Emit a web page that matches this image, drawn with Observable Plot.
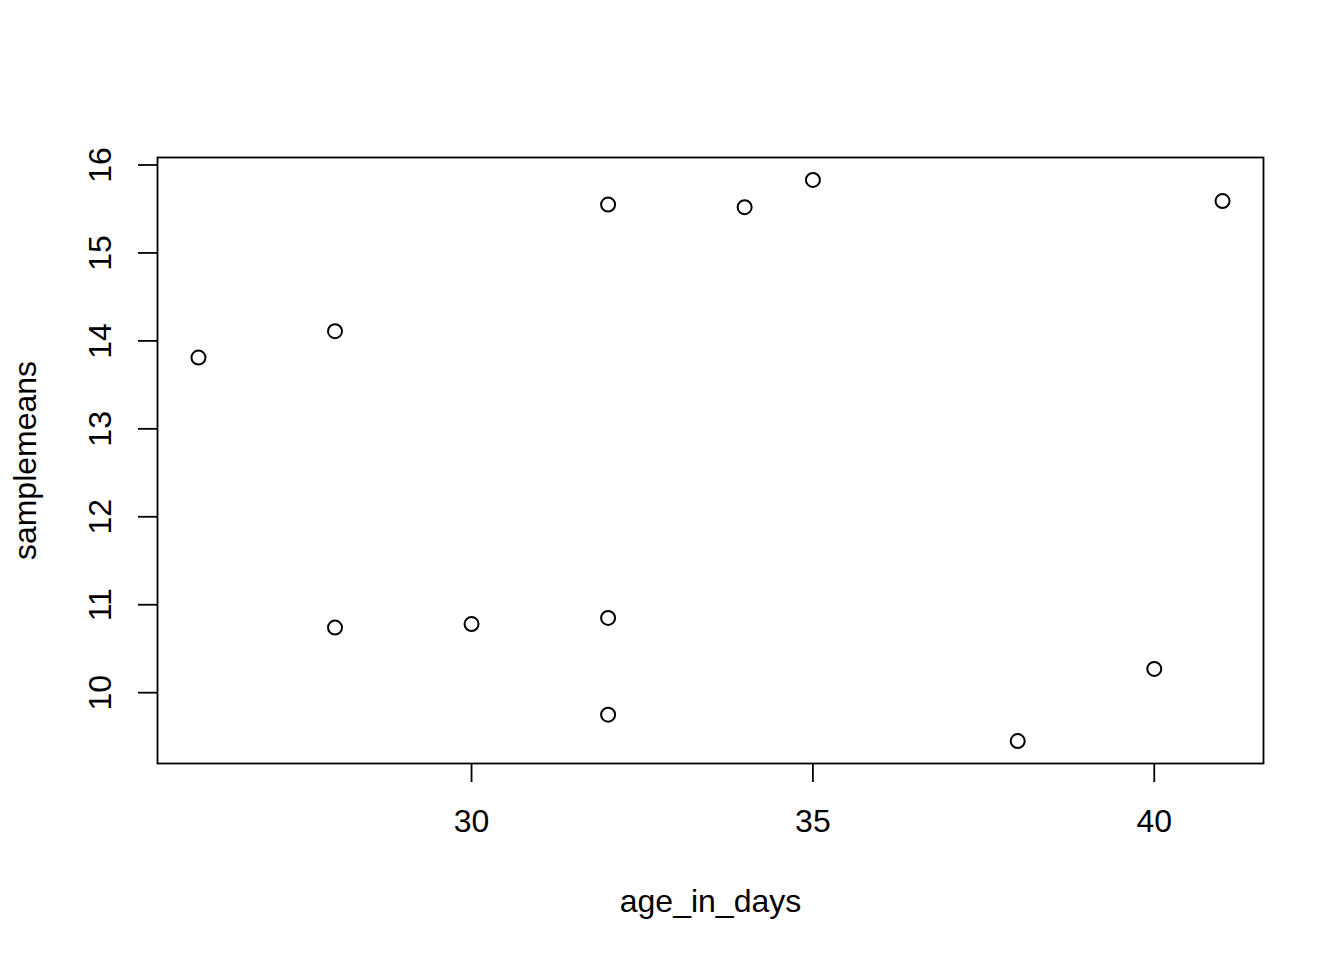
<!DOCTYPE html>
<html>
<head>
<meta charset="utf-8">
<script src="https://cdn.jsdelivr.net/npm/d3@7"></script>
<script src="https://cdn.jsdelivr.net/npm/@observablehq/plot@0.6"></script>
<style>
  html, body { margin: 0; padding: 0; background: #fff; }
  #chart svg { display: block; }
</style>
</head>
<body>
<div id="chart"></div>
<script>
const ageInDays = [26, 28, 28, 30, 32, 32, 32, 34, 35, 38, 40, 41];
const sampleMeans = [13.81, 14.11, 10.74, 10.78, 15.55, 10.85, 9.75, 15.52, 15.83, 9.45, 10.27, 15.59];
const xTicks = [30, 35, 40];
const yTicks = [10, 11, 12, 13, 14, 15, 16];
const xLabel = "age_in_days";
const yLabel = "samplemeans";

const data = ageInDays.map((a, i) => ({age: a, mean: sampleMeans[i]}));

// R-style 4% padding of the data range
function rPad([lo, hi]) { const p = (hi - lo) * 0.04; return [lo - p, hi + p]; }
const xDomain = rPad(d3.extent(ageInDays));
const yDomain = rPad(d3.extent(sampleMeans));

const FONT = "Liberation Sans, Arial, Helvetica, sans-serif";
const FS = 32;

const chart = Plot.plot({
  width: 1344,
  height: 960,
  marginLeft: 157,
  marginRight: 81,
  marginTop: 157,
  marginBottom: 197,
  style: {fontFamily: FONT, fontSize: FS + "px", color: "#000", background: "#fff"},
  x: {domain: xDomain, axis: null},
  y: {domain: yDomain, axis: null},
  marks: [
    Plot.frame({stroke: "#000", strokeWidth: 1.8}),
    Plot.axisX({ticks: xTicks, tickSize: 19, tickPadding: 27, tickFormat: d => String(d), label: null, strokeWidth: 1.8, fontSize: FS, anchor: "bottom"}),
    Plot.axisY({ticks: yTicks, tickSize: 19, tickFormat: () => "", label: null, strokeWidth: 1.8, anchor: "left"}),
    Plot.text(yTicks, {x: () => xDomain[0], y: d => d, text: d => String(d), rotate: -90, dx: -57, textAnchor: "middle", lineAnchor: "middle", fontSize: FS, fill: "#000"}),
    Plot.text([xLabel], {frameAnchor: "bottom", dy: 138, textAnchor: "middle", lineAnchor: "middle", text: d => d, fontSize: FS, fill: "#000"}),
    Plot.text([yLabel], {frameAnchor: "left", dx: -132, rotate: -90, textAnchor: "middle", lineAnchor: "middle", text: d => d, fontSize: FS, fill: "#000"}),
    Plot.dot(data, {x: "age", y: "mean", r: 7, stroke: "#000", strokeWidth: 2, fill: "none"})
  ]
});
document.getElementById("chart").appendChild(chart);
</script>
</body>
</html>
